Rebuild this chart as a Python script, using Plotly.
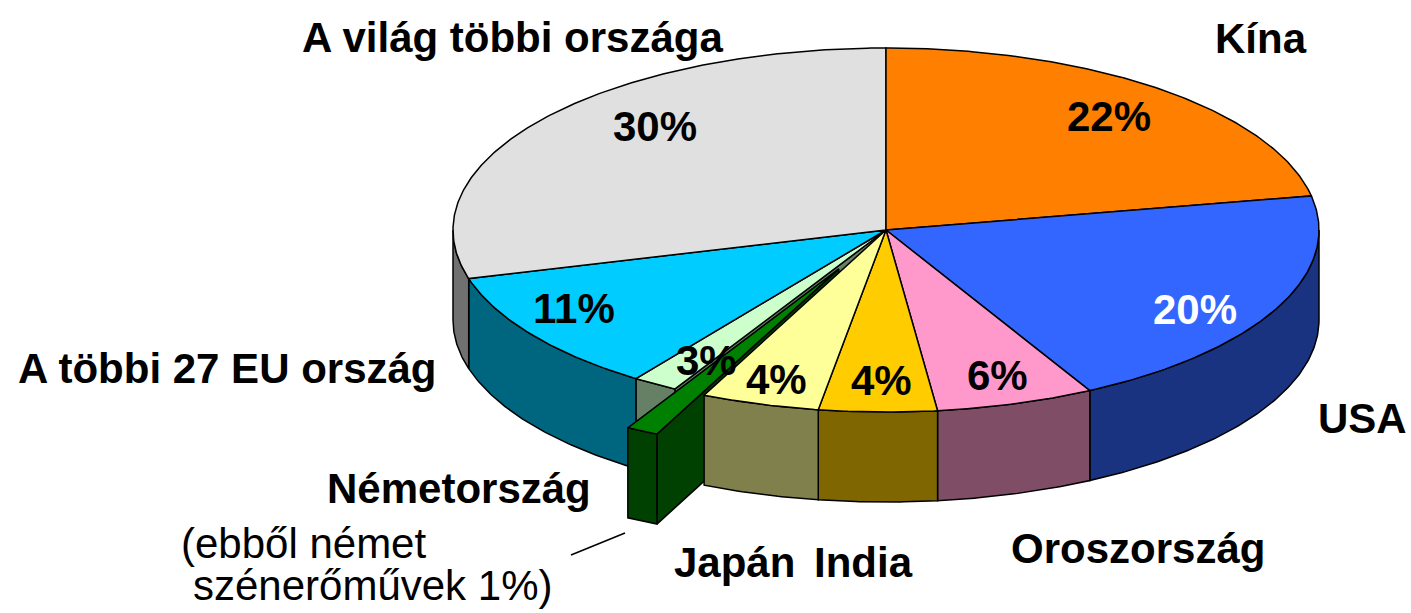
import numpy as np
import plotly.graph_objects as go

# ---------------- data (clockwise from 12 o'clock) ----------------
countries = ["Kína", "USA", "Oroszország", "India", "Japán",
             "Németország – szénerőművek", "Németország – többi",
             "A többi 27 EU ország", "A világ többi országa"]
shares = [22.0, 20.2, 5.9, 4.4, 4.4, 1.2, 1.7, 10.9, 29.3]
pct_labels = ["22%", "20%", "6%", "4%", "4%", "", "3%", "11%", "30%"]
exploded_index = 5

# ---------------- styles ----------------
top_colors = ["#FF8000", "#3366FF", "#FF99CC", "#FFCC00", "#FFFF99",
              "#008000", "#CCFFCC", "#00CCFF", "#E0E0E0"]
side_colors = ["#804000", "#1A3380", "#804D66", "#806600", "#80804D",
               "#004000", "#668066", "#006680", "#707070"]
pct_colors = ["black", "white", "black", "black", "black",
              "black", "black", "black", "black"]
pct_pos = [(1109, 116), (1195, 309), (997, 375), (881, 380), (776, 379),
           None, (706, 360), (574, 308), (655, 126)]

W, H = 1411, 613
CX, CY, RX, RY, DEPTH, EXPLODE = 886, 230, 433, 182, 90, 0.24
FONT = "Liberation Sans, Arial, sans-serif"
FS = 42

total = float(sum(shares))
bounds = np.concatenate([[0.0], np.cumsum(shares)]) / total * 360.0


def offset_for(i):
    if i != exploded_index:
        return (0.0, 0.0)
    mid = np.radians((bounds[i] + bounds[i + 1]) / 2)
    return (RX * EXPLODE * np.sin(mid), -RY * EXPLODE * np.cos(mid))


def arc(t0, t1, off, dz=0.0):
    n = max(int(abs(t1 - t0) * 2) + 2, 2)
    ts = np.radians(np.linspace(t0, t1, n))
    xs = CX + RX * np.sin(ts) + off[0]
    ys = CY - RY * np.cos(ts) + off[1] + dz
    return list(xs), list(ys)


traces = []


def poly(xs, ys, color):
    traces.append(go.Scatter(
        x=xs + [xs[0]], y=ys + [ys[0]], mode="lines", fill="toself",
        fillcolor=color, line=dict(color="black", width=1.5),
        hoverinfo="skip", showlegend=False))


def top_face(i):
    off = offset_for(i)
    xs, ys = arc(bounds[i], bounds[i + 1], off)
    poly([CX + off[0]] + xs, [CY + off[1]] + ys, top_colors[i])


def wall(i):
    t0, t1 = max(bounds[i], 90.0), min(bounds[i + 1], 270.0)
    if t1 <= t0:
        return
    off = offset_for(i)
    xt, yt = arc(t0, t1, off)
    xb, yb = arc(t0, t1, off, DEPTH)
    poly(xt + xb[::-1], yt + yb[::-1], side_colors[i])


def radial_face(i, angle):
    off = offset_for(i)
    t = np.radians(angle)
    ox = CX + RX * np.sin(t) + off[0]
    oy = CY - RY * np.cos(t) + off[1]
    cx, cy = CX + off[0], CY + off[1]
    poly([cx, ox, ox, cx], [cy, oy, oy + DEPTH, cy + DEPTH], side_colors[i])


k = exploded_index
n = len(shares)

# face of the neighbour exposed by the exploded wedge
if np.sin(np.radians(bounds[k + 1])) < 0:
    radial_face(k + 1, bounds[k + 1])
# slices behind / left of the exploded wedge
for i in range(k + 1, n):
    wall(i)
for i in range(k + 1, n):
    top_face(i)
# exploded wedge
if np.sin(np.radians(bounds[k])) < 0:
    radial_face(k, bounds[k])
if np.sin(np.radians(bounds[k + 1])) > 0:
    radial_face(k, bounds[k + 1])
wall(k)
top_face(k)
# slices in front / right of it
for i in range(0, k):
    wall(i)
for i in range(0, k):
    top_face(i)

fig = go.Figure(traces)

ann = []
for i, lab in enumerate(pct_labels):
    if lab and pct_pos[i]:
        ann.append(dict(x=pct_pos[i][0], y=pct_pos[i][1], text="<b>%s</b>" % lab,
                        showarrow=False, font=dict(family=FONT, size=FS, color=pct_colors[i]),
                        xanchor="center", yanchor="middle"))

outer = [("A világ többi országa", 512, 37), ("Kína", 1261, 38),
         ("USA", 1362, 418), ("Oroszország", 1138, 548),
         ("Japán", 734, 562), ("India", 863, 562),
         ("Németország", 459, 488), ("A többi 27 EU ország", 227, 368)]
for txt, x, y in outer:
    ann.append(dict(x=x, y=y, text="<b>%s</b>" % txt, showarrow=False,
                    font=dict(family=FONT, size=FS, color="black"),
                    xanchor="center", yanchor="middle"))
ann.append(dict(x=179, y=543, text="(ebből német", showarrow=False,
                font=dict(family=FONT, size=FS, color="black"),
                xanchor="left", yanchor="middle"))
ann.append(dict(x=191, y=585, text="szénerőművek 1%)", showarrow=False,
                font=dict(family=FONT, size=FS, color="black"),
                xanchor="left", yanchor="middle"))

fig.update_layout(
    width=W, height=H, margin=dict(l=0, r=0, t=0, b=0),
    paper_bgcolor="white", plot_bgcolor="white", showlegend=False,
    xaxis=dict(range=[0, W], visible=False, fixedrange=True),
    yaxis=dict(range=[H, 0], visible=False, fixedrange=True),
    annotations=ann,
    shapes=[dict(type="line", x0=571, y0=555, x1=625, y1=533,
                 line=dict(color="black", width=1.5))],
)

fig.write_html("out.html", config={"displayModeBar": False},
               post_script="document.body.style.margin='0';")
